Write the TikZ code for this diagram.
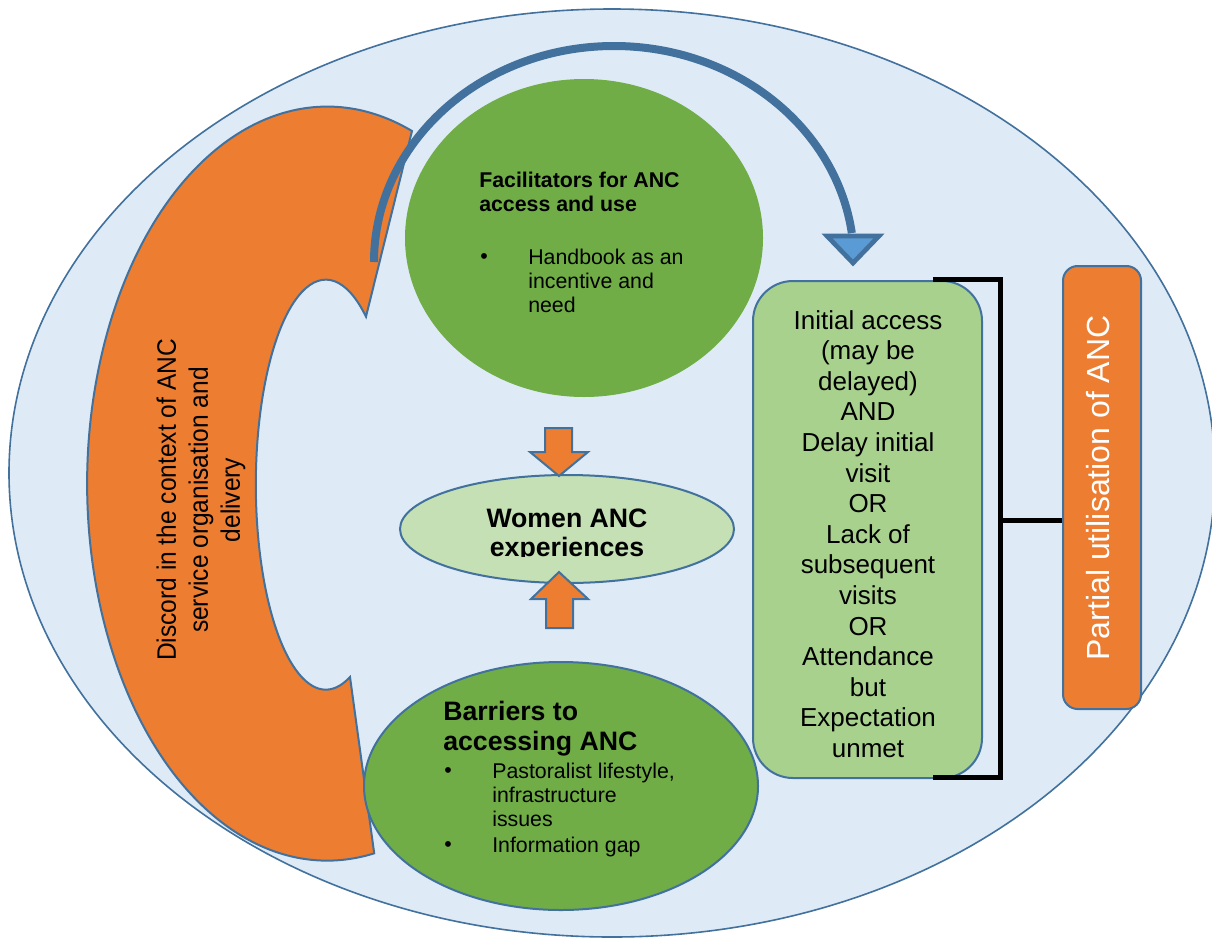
\documentclass[tikz,border=0pt]{standalone}
\usepackage{fontspec}
\setmainfont{Liberation Sans}
\newfontfamily\narrowfont[FakeStretch=0.92]{Liberation Sans}
\usetikzlibrary{shapes.geometric}
\definecolor{bgblue}{HTML}{DEEBF7}
\definecolor{lineblue}{HTML}{41719C}
\definecolor{orng}{HTML}{ED7D31}
\definecolor{grn}{HTML}{70AD47}
\definecolor{lgrn}{HTML}{A9D18E}
\definecolor{pgrn}{HTML}{C5E0B4}
\definecolor{headblue}{HTML}{5B9BD5}
\newcommand\myfs[2]{\fontsize{#1}{#2}\selectfont}
\begin{document}
\begin{tikzpicture}[x=0.75pt,y=-0.75pt,
  shapeline/.style={draw=lineblue, line width=1.5pt},
  blob/.style={ellipse, inner sep=0pt},
  ltxt/.style={anchor=base west, inner sep=0pt},
  ctxt/.style={anchor=base, inner sep=0pt},
  blockarrow/.style={fill=orng, draw=lineblue, line width=1.5pt, line join=miter},
  bracketline/.style={draw=black, line width=3.75pt, line join=miter}]
\useasboundingbox (0,0) rectangle (1212,939);
\fill[white] (0,0) rectangle (1212,939);
\clip (0,0) rectangle (1212,939);

% outer frame
\node[blob, fill=bgblue, draw=lineblue, line width=1.2pt, minimum width=904.5pt, minimum height=696pt] (frame) at (612,473) {};

% orange C shape
\filldraw[fill=orng, shapeline] (412,131) arc[start angle=-69.3, end angle=-281.3, x radius=240, y radius=377]
  -- (350,677) arc[start angle=69.8, end angle=305, x radius=70, y radius=205] -- cycle;
\node[rotate=90, align=center, font=\narrowfont\myfs{20}{24}] (discord) at (201,500)
  {Discord in the context of ANC\\service organisation and\\delivery};

% curved arrow
\draw[line width=6pt, draw=lineblue] (374,262) arc[start angle=180, end angle=352.3, x radius=240, y radius=216] coordinate (arcend);
\filldraw[fill=headblue, draw=lineblue, line width=3.5pt, line join=miter] (827,236) -- (879,236) -- (853,263) -- cycle;

% facilitators
\node[blob, fill=grn, minimum width=268.5pt, minimum height=238.5pt] (fac) at (584,238) {};
\node[ltxt, font=\bfseries\myfs{16}{18}] (fac1) at (479,187) {Facilitators for ANC};
\node[ltxt, font=\bfseries\myfs{16}{18}] (fac2) at (479,211) {access and use};
\node[ltxt, font=\myfs{16}{18}] (facb) at (480,263) {•};
\node[ltxt, font=\myfs{16}{18}] (fac3) at (528,264) {Handbook as an};
\node[ltxt, font=\myfs{16}{18}] (fac4) at (528,288) {incentive and};
\node[ltxt, font=\myfs{16}{18}] (fac5) at (528,312) {need};

% outcomes box
\node[rectangle, rounded corners=30pt, fill=lgrn, shapeline, minimum width=171.75pt, minimum height=372.75pt, inner sep=0pt] (outc) at (867.5,529.5) {};
\begin{scope}
\clip (700,250) rectangle (1000,757.5);
\foreach \t [count=\i from 0] in {{Initial access},{(may be},{delayed)},{AND},{Delay initial},{visit},{OR},{Lack of},{subsequent},{visits},{OR},{Attendance},{but},{Expectation},{unmet}}
  \node[ctxt, font=\myfs{19.5}{23}] (ol\i) at (868,{329+30.6*\i}) {\t};
\end{scope}

% barriers
\node[blob, fill=grn, shapeline, minimum width=295.5pt, minimum height=186pt] (bar) at (561,786) {};
\node[ltxt, font=\bfseries\myfs{20}{24}] (bar1) at (443,720) {Barriers to};
\node[ltxt, font=\bfseries\myfs{20}{24}] (bar2) at (443,750) {accessing ANC};
\node[ltxt, font=\myfs{16}{18}] (barb1) at (444,777) {•};
\node[ltxt, font=\myfs{16}{18}] (bar3) at (492,778) {Pastoralist lifestyle,};
\node[ltxt, font=\myfs{16}{18}] (bar4) at (492,802) {infrastructure};
\node[ltxt, font=\myfs{16}{18}] (bar5) at (492,826) {issues};
\node[ltxt, font=\myfs{16}{18}] (barb2) at (444,851) {•};
\node[ltxt, font=\myfs{16}{18}] (bar6) at (492,852) {Information gap};

% women experiences
\node[blob, fill=pgrn, shapeline, minimum width=250.5pt, minimum height=81pt] (women) at (567,529) {};
\begin{scope}
\clip (400,470) rectangle (740,556.5);
\node[ctxt, font=\bfseries\myfs{20}{24}] (wom1) at (567,527) {Women ANC};
\node[ctxt, font=\bfseries\myfs{20}{24}] (wom2) at (567,556) {experiences};
\end{scope}

% block arrows
\filldraw[blockarrow] (545,428) -- (572,428) -- (572,452) -- (588,452) -- (559,476) -- (530,452) -- (545,452) -- cycle;
\filldraw[blockarrow] (546,628) -- (573,628) -- (573,599) -- (588,599) -- (559,572) -- (531,599) -- (546,599) -- cycle;

% partial utilisation
\node[rectangle, rounded corners=11pt, fill=orng, shapeline, minimum width=58.5pt, minimum height=332.25pt, inner sep=0pt] (part) at (1102,487.5) {};
\node[rotate=90, text=white, font=\myfs{24}{28}, inner sep=0pt] (parttxt) at (1098,488) {Partial utilisation of ANC};

% bracket
\coordinate (bt) at (933,279);
\coordinate (bb) at (933,777);
\coordinate (bm) at (1000,520);
\draw[bracketline] (bt) -- (bt -| bm) -- (bb -| bm) -- (bb);
\draw[bracketline] (bm) -- (part.west |- bm);
\end{tikzpicture}
\end{document}
